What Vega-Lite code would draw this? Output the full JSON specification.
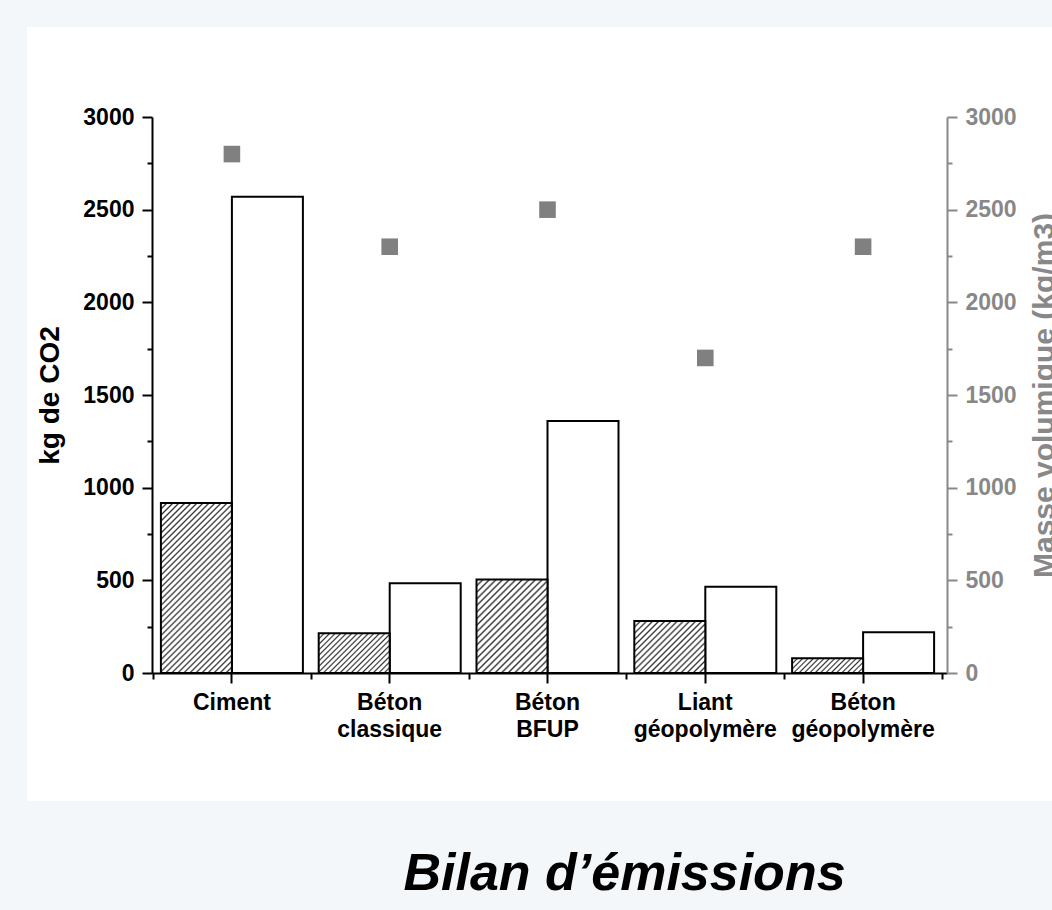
{
  "$schema": "https://vega.github.io/schema/vega-lite/v6.json",
  "width": 1025,
  "height": 774,
  "autosize": {"type": "none"},
  "padding": {"left": 27, "top": 27, "right": 0, "bottom": 109},
  "background": "#f4f7fa",
  "title": {"text": "Bilan d’émissions", "orient": "bottom", "anchor": "middle", "frame": "group", "dx": 85, "offset": 89, "baseline": "alphabetic", "font": "Liberation Sans", "fontSize": 52, "fontWeight": "bold", "fontStyle": "italic", "color": "#000"},
  "data": {"values": [
    {"materiau": "Ciment", "co2_t": 917, "co2_m3": 2570, "masse": 2800},
    {"materiau": "Béton classique", "co2_t": 214, "co2_m3": 484, "masse": 2300},
    {"materiau": "Béton BFUP", "co2_t": 505, "co2_m3": 1360, "masse": 2500},
    {"materiau": "Liant géopolymère", "co2_t": 280, "co2_m3": 466, "masse": 1700},
    {"materiau": "Béton géopolymère", "co2_t": 79, "co2_m3": 220, "masse": 2300}
  ]},
  "encoding": {
    "x": {"field": "materiau", "type": "nominal", "sort": null, "axis": null,
      "scale": {"domain": ["Ciment", "Béton classique", "Béton BFUP", "Liant géopolymère", "Béton géopolymère"], "range": [125, 920], "paddingInner": 0, "paddingOuter": 0.019, "align": 0.167}}
  },
  "layer": [
    {
      "mark": {"type": "bar", "fill": "#ffffff", "stroke": "#000", "strokeWidth": 2},
      "encoding": {
        "x": {"field": "materiau", "type": "nominal", "sort": null,
          "scale": {"domain": ["Ciment", "Béton classique", "Béton BFUP", "Liant géopolymère", "Béton géopolymère"], "range": [125, 920], "paddingInner": 0, "paddingOuter": 0.019, "align": 0.167},
          "axis": {"orient": "bottom", "offset": -128, "title": null, "domainColor": "#000", "domainWidth": 2, "tickColor": "#000", "tickWidth": 2, "tickSize": 10, "labelFont": "Liberation Sans", "labelFontWeight": "bold", "labelFontSize": 23, "labelColor": "#000", "labelPadding": 8, "labelAngle": 0, "labelOverlap": false, "labelExpr": "split(datum.label, ' ')", "labelLineHeight": 27}},
        "xOffset": {"datum": "m3", "scale": {"domain": ["t", "m3"], "paddingInner": 0, "paddingOuter": 0.1113}},
        "y": {"field": "co2_m3", "type": "quantitative",
          "scale": {"domain": [0, 3000], "range": [646, 90], "nice": false, "zero": false},
          "axis": {"orient": "left", "offset": -125, "values": [0, 250, 500, 750, 1000, 1250, 1500, 1750, 2000, 2250, 2500, 2750, 3000], "format": "d", "labelExpr": "datum.value % 500 === 0 ? datum.label : ''", "domainColor": "#000", "domainWidth": 2, "tickColor": "#000", "tickWidth": 2, "tickSize": {"condition": {"test": "datum.value % 500 === 0", "value": 10}, "value": 5}, "labelFont": "Liberation Sans", "labelFontWeight": "bold", "labelFontSize": 23, "labelColor": "#000", "labelPadding": 8, "title": "kg de CO2", "titleFont": "Liberation Sans", "titleFontWeight": "bold", "titleFontSize": 28, "titleColor": "#000", "titlePadding": 18}}
      }
    },
    {
      "transform": [{"filter": "datum.materiau === 'Ciment'"}],
      "mark": {"type": "bar", "stroke": "#000", "strokeWidth": 2, "fill": {"gradient": "linear", "x1": 0, "y1": 0, "x2": 0.5043, "y2": 1.2071, "stops": [
        {"offset": 0, "color": "#333"}, {"offset": 0.0075, "color": "#fff"}, {"offset": 0.0175, "color": "#fff"},
        {"offset": 0.025, "color": "#333"}, {"offset": 0.0325, "color": "#fff"}, {"offset": 0.0425, "color": "#fff"},
        {"offset": 0.05, "color": "#333"}, {"offset": 0.0575, "color": "#fff"}, {"offset": 0.0675, "color": "#fff"},
        {"offset": 0.075, "color": "#333"}, {"offset": 0.0825, "color": "#fff"}, {"offset": 0.0925, "color": "#fff"},
        {"offset": 0.1, "color": "#333"}, {"offset": 0.1075, "color": "#fff"}, {"offset": 0.1175, "color": "#fff"},
        {"offset": 0.125, "color": "#333"}, {"offset": 0.1325, "color": "#fff"}, {"offset": 0.1425, "color": "#fff"},
        {"offset": 0.15, "color": "#333"}, {"offset": 0.1575, "color": "#fff"}, {"offset": 0.1675, "color": "#fff"},
        {"offset": 0.175, "color": "#333"}, {"offset": 0.1825, "color": "#fff"}, {"offset": 0.1925, "color": "#fff"},
        {"offset": 0.2, "color": "#333"}, {"offset": 0.2075, "color": "#fff"}, {"offset": 0.2175, "color": "#fff"},
        {"offset": 0.225, "color": "#333"}, {"offset": 0.2325, "color": "#fff"}, {"offset": 0.2425, "color": "#fff"},
        {"offset": 0.25, "color": "#333"}, {"offset": 0.2575, "color": "#fff"}, {"offset": 0.2675, "color": "#fff"},
        {"offset": 0.275, "color": "#333"}, {"offset": 0.2825, "color": "#fff"}, {"offset": 0.2925, "color": "#fff"},
        {"offset": 0.3, "color": "#333"}, {"offset": 0.3075, "color": "#fff"}, {"offset": 0.3175, "color": "#fff"},
        {"offset": 0.325, "color": "#333"}, {"offset": 0.3325, "color": "#fff"}, {"offset": 0.3425, "color": "#fff"},
        {"offset": 0.35, "color": "#333"}, {"offset": 0.3575, "color": "#fff"}, {"offset": 0.3675, "color": "#fff"},
        {"offset": 0.375, "color": "#333"}, {"offset": 0.3825, "color": "#fff"}, {"offset": 0.3925, "color": "#fff"},
        {"offset": 0.4, "color": "#333"}, {"offset": 0.4075, "color": "#fff"}, {"offset": 0.4175, "color": "#fff"},
        {"offset": 0.425, "color": "#333"}, {"offset": 0.4325, "color": "#fff"}, {"offset": 0.4425, "color": "#fff"},
        {"offset": 0.45, "color": "#333"}, {"offset": 0.4575, "color": "#fff"}, {"offset": 0.4675, "color": "#fff"},
        {"offset": 0.475, "color": "#333"}, {"offset": 0.4825, "color": "#fff"}, {"offset": 0.4925, "color": "#fff"},
        {"offset": 0.5, "color": "#333"}, {"offset": 0.5075, "color": "#fff"}, {"offset": 0.5175, "color": "#fff"},
        {"offset": 0.525, "color": "#333"}, {"offset": 0.5325, "color": "#fff"}, {"offset": 0.5425, "color": "#fff"},
        {"offset": 0.55, "color": "#333"}, {"offset": 0.5575, "color": "#fff"}, {"offset": 0.5675, "color": "#fff"},
        {"offset": 0.575, "color": "#333"}, {"offset": 0.5825, "color": "#fff"}, {"offset": 0.5925, "color": "#fff"},
        {"offset": 0.6, "color": "#333"}, {"offset": 0.6075, "color": "#fff"}, {"offset": 0.6175, "color": "#fff"},
        {"offset": 0.625, "color": "#333"}, {"offset": 0.6325, "color": "#fff"}, {"offset": 0.6425, "color": "#fff"},
        {"offset": 0.65, "color": "#333"}, {"offset": 0.6575, "color": "#fff"}, {"offset": 0.6675, "color": "#fff"},
        {"offset": 0.675, "color": "#333"}, {"offset": 0.6825, "color": "#fff"}, {"offset": 0.6925, "color": "#fff"},
        {"offset": 0.7, "color": "#333"}, {"offset": 0.7075, "color": "#fff"}, {"offset": 0.7175, "color": "#fff"},
        {"offset": 0.725, "color": "#333"}, {"offset": 0.7325, "color": "#fff"}, {"offset": 0.7425, "color": "#fff"},
        {"offset": 0.75, "color": "#333"}, {"offset": 0.7575, "color": "#fff"}, {"offset": 0.7675, "color": "#fff"},
        {"offset": 0.775, "color": "#333"}, {"offset": 0.7825, "color": "#fff"}, {"offset": 0.7925, "color": "#fff"},
        {"offset": 0.8, "color": "#333"}, {"offset": 0.8075, "color": "#fff"}, {"offset": 0.8175, "color": "#fff"},
        {"offset": 0.825, "color": "#333"}, {"offset": 0.8325, "color": "#fff"}, {"offset": 0.8425, "color": "#fff"},
        {"offset": 0.85, "color": "#333"}, {"offset": 0.8575, "color": "#fff"}, {"offset": 0.8675, "color": "#fff"},
        {"offset": 0.875, "color": "#333"}, {"offset": 0.8825, "color": "#fff"}, {"offset": 0.8925, "color": "#fff"},
        {"offset": 0.9, "color": "#333"}, {"offset": 0.9075, "color": "#fff"}, {"offset": 0.9175, "color": "#fff"},
        {"offset": 0.925, "color": "#333"}, {"offset": 0.9325, "color": "#fff"}, {"offset": 0.9425, "color": "#fff"},
        {"offset": 0.95, "color": "#333"}, {"offset": 0.9575, "color": "#fff"}, {"offset": 0.9675, "color": "#fff"},
        {"offset": 0.975, "color": "#333"}, {"offset": 0.9825, "color": "#fff"}, {"offset": 0.9925, "color": "#fff"},
        {"offset": 1, "color": "#333"}]}},
      "encoding": {
        "xOffset": {"datum": "t", "scale": {"domain": ["t", "m3"], "paddingInner": 0, "paddingOuter": 0.1113}},
        "y": {"field": "co2_t", "type": "quantitative", "scale": {"domain": [0, 3000], "range": [646, 90], "nice": false, "zero": false}, "axis": null}
      }
    },
    {
      "transform": [{"filter": "datum.materiau === 'Béton classique'"}],
      "mark": {"type": "bar", "stroke": "#000", "strokeWidth": 2, "fill": {"gradient": "linear", "x1": 0, "y1": 0, "x2": 1.1879, "y2": 0.6636, "stops": [
        {"offset": 0, "color": "#333"}, {"offset": 0.015, "color": "#fff"}, {"offset": 0.035, "color": "#fff"},
        {"offset": 0.05, "color": "#333"}, {"offset": 0.065, "color": "#fff"}, {"offset": 0.085, "color": "#fff"},
        {"offset": 0.1, "color": "#333"}, {"offset": 0.115, "color": "#fff"}, {"offset": 0.135, "color": "#fff"},
        {"offset": 0.15, "color": "#333"}, {"offset": 0.165, "color": "#fff"}, {"offset": 0.185, "color": "#fff"},
        {"offset": 0.2, "color": "#333"}, {"offset": 0.215, "color": "#fff"}, {"offset": 0.235, "color": "#fff"},
        {"offset": 0.25, "color": "#333"}, {"offset": 0.265, "color": "#fff"}, {"offset": 0.285, "color": "#fff"},
        {"offset": 0.3, "color": "#333"}, {"offset": 0.315, "color": "#fff"}, {"offset": 0.335, "color": "#fff"},
        {"offset": 0.35, "color": "#333"}, {"offset": 0.365, "color": "#fff"}, {"offset": 0.385, "color": "#fff"},
        {"offset": 0.4, "color": "#333"}, {"offset": 0.415, "color": "#fff"}, {"offset": 0.435, "color": "#fff"},
        {"offset": 0.45, "color": "#333"}, {"offset": 0.465, "color": "#fff"}, {"offset": 0.485, "color": "#fff"},
        {"offset": 0.5, "color": "#333"}, {"offset": 0.515, "color": "#fff"}, {"offset": 0.535, "color": "#fff"},
        {"offset": 0.55, "color": "#333"}, {"offset": 0.565, "color": "#fff"}, {"offset": 0.585, "color": "#fff"},
        {"offset": 0.6, "color": "#333"}, {"offset": 0.615, "color": "#fff"}, {"offset": 0.635, "color": "#fff"},
        {"offset": 0.65, "color": "#333"}, {"offset": 0.665, "color": "#fff"}, {"offset": 0.685, "color": "#fff"},
        {"offset": 0.7, "color": "#333"}, {"offset": 0.715, "color": "#fff"}, {"offset": 0.735, "color": "#fff"},
        {"offset": 0.75, "color": "#333"}, {"offset": 0.765, "color": "#fff"}, {"offset": 0.785, "color": "#fff"},
        {"offset": 0.8, "color": "#333"}, {"offset": 0.815, "color": "#fff"}, {"offset": 0.835, "color": "#fff"},
        {"offset": 0.85, "color": "#333"}, {"offset": 0.865, "color": "#fff"}, {"offset": 0.885, "color": "#fff"},
        {"offset": 0.9, "color": "#333"}, {"offset": 0.915, "color": "#fff"}, {"offset": 0.935, "color": "#fff"},
        {"offset": 0.95, "color": "#333"}, {"offset": 0.965, "color": "#fff"}, {"offset": 0.985, "color": "#fff"},
        {"offset": 1, "color": "#333"}]}},
      "encoding": {
        "xOffset": {"datum": "t", "scale": {"domain": ["t", "m3"], "paddingInner": 0, "paddingOuter": 0.1113}},
        "y": {"field": "co2_t", "type": "quantitative", "scale": {"domain": [0, 3000], "range": [646, 90], "nice": false, "zero": false}, "axis": null}
      }
    },
    {
      "transform": [{"filter": "datum.materiau === 'Béton BFUP'"}],
      "mark": {"type": "bar", "stroke": "#000", "strokeWidth": 2, "fill": {"gradient": "linear", "x1": 0, "y1": 0, "x2": 0.8468, "y2": 1.1163, "stops": [
        {"offset": 0, "color": "#333"}, {"offset": 0.012, "color": "#fff"}, {"offset": 0.028, "color": "#fff"},
        {"offset": 0.04, "color": "#333"}, {"offset": 0.052, "color": "#fff"}, {"offset": 0.068, "color": "#fff"},
        {"offset": 0.08, "color": "#333"}, {"offset": 0.092, "color": "#fff"}, {"offset": 0.108, "color": "#fff"},
        {"offset": 0.12, "color": "#333"}, {"offset": 0.132, "color": "#fff"}, {"offset": 0.148, "color": "#fff"},
        {"offset": 0.16, "color": "#333"}, {"offset": 0.172, "color": "#fff"}, {"offset": 0.188, "color": "#fff"},
        {"offset": 0.2, "color": "#333"}, {"offset": 0.212, "color": "#fff"}, {"offset": 0.228, "color": "#fff"},
        {"offset": 0.24, "color": "#333"}, {"offset": 0.252, "color": "#fff"}, {"offset": 0.268, "color": "#fff"},
        {"offset": 0.28, "color": "#333"}, {"offset": 0.292, "color": "#fff"}, {"offset": 0.308, "color": "#fff"},
        {"offset": 0.32, "color": "#333"}, {"offset": 0.332, "color": "#fff"}, {"offset": 0.348, "color": "#fff"},
        {"offset": 0.36, "color": "#333"}, {"offset": 0.372, "color": "#fff"}, {"offset": 0.388, "color": "#fff"},
        {"offset": 0.4, "color": "#333"}, {"offset": 0.412, "color": "#fff"}, {"offset": 0.428, "color": "#fff"},
        {"offset": 0.44, "color": "#333"}, {"offset": 0.452, "color": "#fff"}, {"offset": 0.468, "color": "#fff"},
        {"offset": 0.48, "color": "#333"}, {"offset": 0.492, "color": "#fff"}, {"offset": 0.508, "color": "#fff"},
        {"offset": 0.52, "color": "#333"}, {"offset": 0.532, "color": "#fff"}, {"offset": 0.548, "color": "#fff"},
        {"offset": 0.56, "color": "#333"}, {"offset": 0.572, "color": "#fff"}, {"offset": 0.588, "color": "#fff"},
        {"offset": 0.6, "color": "#333"}, {"offset": 0.612, "color": "#fff"}, {"offset": 0.628, "color": "#fff"},
        {"offset": 0.64, "color": "#333"}, {"offset": 0.652, "color": "#fff"}, {"offset": 0.668, "color": "#fff"},
        {"offset": 0.68, "color": "#333"}, {"offset": 0.692, "color": "#fff"}, {"offset": 0.708, "color": "#fff"},
        {"offset": 0.72, "color": "#333"}, {"offset": 0.732, "color": "#fff"}, {"offset": 0.748, "color": "#fff"},
        {"offset": 0.76, "color": "#333"}, {"offset": 0.772, "color": "#fff"}, {"offset": 0.788, "color": "#fff"},
        {"offset": 0.8, "color": "#333"}, {"offset": 0.812, "color": "#fff"}, {"offset": 0.828, "color": "#fff"},
        {"offset": 0.84, "color": "#333"}, {"offset": 0.852, "color": "#fff"}, {"offset": 0.868, "color": "#fff"},
        {"offset": 0.88, "color": "#333"}, {"offset": 0.892, "color": "#fff"}, {"offset": 0.908, "color": "#fff"},
        {"offset": 0.92, "color": "#333"}, {"offset": 0.932, "color": "#fff"}, {"offset": 0.948, "color": "#fff"},
        {"offset": 0.96, "color": "#333"}, {"offset": 0.972, "color": "#fff"}, {"offset": 0.988, "color": "#fff"},
        {"offset": 1, "color": "#333"}]}},
      "encoding": {
        "xOffset": {"datum": "t", "scale": {"domain": ["t", "m3"], "paddingInner": 0, "paddingOuter": 0.1113}},
        "y": {"field": "co2_t", "type": "quantitative", "scale": {"domain": [0, 3000], "range": [646, 90], "nice": false, "zero": false}, "axis": null}
      }
    },
    {
      "transform": [{"filter": "datum.materiau === 'Liant géopolymère'"}],
      "mark": {"type": "bar", "stroke": "#000", "strokeWidth": 2, "fill": {"gradient": "linear", "x1": 0, "y1": 0, "x2": 1.1282, "y2": 0.8245, "stops": [
        {"offset": 0, "color": "#333"}, {"offset": 0.015, "color": "#fff"}, {"offset": 0.035, "color": "#fff"},
        {"offset": 0.05, "color": "#333"}, {"offset": 0.065, "color": "#fff"}, {"offset": 0.085, "color": "#fff"},
        {"offset": 0.1, "color": "#333"}, {"offset": 0.115, "color": "#fff"}, {"offset": 0.135, "color": "#fff"},
        {"offset": 0.15, "color": "#333"}, {"offset": 0.165, "color": "#fff"}, {"offset": 0.185, "color": "#fff"},
        {"offset": 0.2, "color": "#333"}, {"offset": 0.215, "color": "#fff"}, {"offset": 0.235, "color": "#fff"},
        {"offset": 0.25, "color": "#333"}, {"offset": 0.265, "color": "#fff"}, {"offset": 0.285, "color": "#fff"},
        {"offset": 0.3, "color": "#333"}, {"offset": 0.315, "color": "#fff"}, {"offset": 0.335, "color": "#fff"},
        {"offset": 0.35, "color": "#333"}, {"offset": 0.365, "color": "#fff"}, {"offset": 0.385, "color": "#fff"},
        {"offset": 0.4, "color": "#333"}, {"offset": 0.415, "color": "#fff"}, {"offset": 0.435, "color": "#fff"},
        {"offset": 0.45, "color": "#333"}, {"offset": 0.465, "color": "#fff"}, {"offset": 0.485, "color": "#fff"},
        {"offset": 0.5, "color": "#333"}, {"offset": 0.515, "color": "#fff"}, {"offset": 0.535, "color": "#fff"},
        {"offset": 0.55, "color": "#333"}, {"offset": 0.565, "color": "#fff"}, {"offset": 0.585, "color": "#fff"},
        {"offset": 0.6, "color": "#333"}, {"offset": 0.615, "color": "#fff"}, {"offset": 0.635, "color": "#fff"},
        {"offset": 0.65, "color": "#333"}, {"offset": 0.665, "color": "#fff"}, {"offset": 0.685, "color": "#fff"},
        {"offset": 0.7, "color": "#333"}, {"offset": 0.715, "color": "#fff"}, {"offset": 0.735, "color": "#fff"},
        {"offset": 0.75, "color": "#333"}, {"offset": 0.765, "color": "#fff"}, {"offset": 0.785, "color": "#fff"},
        {"offset": 0.8, "color": "#333"}, {"offset": 0.815, "color": "#fff"}, {"offset": 0.835, "color": "#fff"},
        {"offset": 0.85, "color": "#333"}, {"offset": 0.865, "color": "#fff"}, {"offset": 0.885, "color": "#fff"},
        {"offset": 0.9, "color": "#333"}, {"offset": 0.915, "color": "#fff"}, {"offset": 0.935, "color": "#fff"},
        {"offset": 0.95, "color": "#333"}, {"offset": 0.965, "color": "#fff"}, {"offset": 0.985, "color": "#fff"},
        {"offset": 1, "color": "#333"}]}},
      "encoding": {
        "xOffset": {"datum": "t", "scale": {"domain": ["t", "m3"], "paddingInner": 0, "paddingOuter": 0.1113}},
        "y": {"field": "co2_t", "type": "quantitative", "scale": {"domain": [0, 3000], "range": [646, 90], "nice": false, "zero": false}, "axis": null}
      }
    },
    {
      "transform": [{"filter": "datum.materiau === 'Béton géopolymère'"}],
      "mark": {"type": "bar", "stroke": "#000", "strokeWidth": 2, "fill": {"gradient": "linear", "x1": 0, "y1": 0, "x2": 1.157, "y2": 0.2386, "stops": [
        {"offset": 0, "color": "#333"}, {"offset": 0.01875, "color": "#fff"}, {"offset": 0.04375, "color": "#fff"},
        {"offset": 0.0625, "color": "#333"}, {"offset": 0.08125, "color": "#fff"}, {"offset": 0.10625, "color": "#fff"},
        {"offset": 0.125, "color": "#333"}, {"offset": 0.14375, "color": "#fff"}, {"offset": 0.16875, "color": "#fff"},
        {"offset": 0.1875, "color": "#333"}, {"offset": 0.20625, "color": "#fff"}, {"offset": 0.23125, "color": "#fff"},
        {"offset": 0.25, "color": "#333"}, {"offset": 0.26875, "color": "#fff"}, {"offset": 0.29375, "color": "#fff"},
        {"offset": 0.3125, "color": "#333"}, {"offset": 0.33125, "color": "#fff"}, {"offset": 0.35625, "color": "#fff"},
        {"offset": 0.375, "color": "#333"}, {"offset": 0.39375, "color": "#fff"}, {"offset": 0.41875, "color": "#fff"},
        {"offset": 0.4375, "color": "#333"}, {"offset": 0.45625, "color": "#fff"}, {"offset": 0.48125, "color": "#fff"},
        {"offset": 0.5, "color": "#333"}, {"offset": 0.51875, "color": "#fff"}, {"offset": 0.54375, "color": "#fff"},
        {"offset": 0.5625, "color": "#333"}, {"offset": 0.58125, "color": "#fff"}, {"offset": 0.60625, "color": "#fff"},
        {"offset": 0.625, "color": "#333"}, {"offset": 0.64375, "color": "#fff"}, {"offset": 0.66875, "color": "#fff"},
        {"offset": 0.6875, "color": "#333"}, {"offset": 0.70625, "color": "#fff"}, {"offset": 0.73125, "color": "#fff"},
        {"offset": 0.75, "color": "#333"}, {"offset": 0.76875, "color": "#fff"}, {"offset": 0.79375, "color": "#fff"},
        {"offset": 0.8125, "color": "#333"}, {"offset": 0.83125, "color": "#fff"}, {"offset": 0.85625, "color": "#fff"},
        {"offset": 0.875, "color": "#333"}, {"offset": 0.89375, "color": "#fff"}, {"offset": 0.91875, "color": "#fff"},
        {"offset": 0.9375, "color": "#333"}, {"offset": 0.95625, "color": "#fff"}, {"offset": 0.98125, "color": "#fff"},
        {"offset": 1, "color": "#333"}]}},
      "encoding": {
        "xOffset": {"datum": "t", "scale": {"domain": ["t", "m3"], "paddingInner": 0, "paddingOuter": 0.1113}},
        "y": {"field": "co2_t", "type": "quantitative", "scale": {"domain": [0, 3000], "range": [646, 90], "nice": false, "zero": false}, "axis": null}
      }
    },
    {
      "mark": {"type": "point", "shape": "square", "filled": true, "size": 275, "color": "#808080", "opacity": 1},
      "encoding": {
        "x": {"field": "materiau", "type": "nominal", "sort": null,
          "scale": {"domain": ["Ciment", "Béton classique", "Béton BFUP", "Liant géopolymère", "Béton géopolymère"], "range": [125, 920], "paddingInner": 0, "paddingOuter": 0.019, "align": 0.167},
          "axis": {"orient": "bottom", "offset": -128, "title": null, "domain": false, "labels": false, "ticks": true, "tickBand": "extent", "tickColor": "#000", "tickWidth": 2, "tickSize": 6}},
        "y": {"field": "masse", "type": "quantitative",
          "scale": {"domain": [0, 3000], "range": [646, 90], "nice": false, "zero": false},
          "axis": {"orient": "right", "offset": -105, "values": [0, 250, 500, 750, 1000, 1250, 1500, 1750, 2000, 2250, 2500, 2750, 3000], "format": "d", "labelExpr": "datum.value % 500 === 0 ? datum.label : ''", "domainColor": "#888", "domainWidth": 2, "tickColor": "#888", "tickWidth": 2, "tickSize": {"condition": {"test": "datum.value % 500 === 0", "value": 10}, "value": 5}, "labelFont": "Liberation Sans", "labelFontWeight": "bold", "labelFontSize": 23, "labelColor": "#888", "labelPadding": 8, "title": "Masse volumique (kg/m3)", "titleFont": "Liberation Sans", "titleFontWeight": "bold", "titleFontSize": 30, "titleColor": "#888", "titleAngle": -90, "titleBaseline": "top", "titlePadding": 13}}
      }
    }
  ],
  "resolve": {"axis": {"x": "independent", "y": "independent"}},
  "config": {"view": {"fill": "#ffffff", "stroke": null}, "axis": {"grid": false}}
}
